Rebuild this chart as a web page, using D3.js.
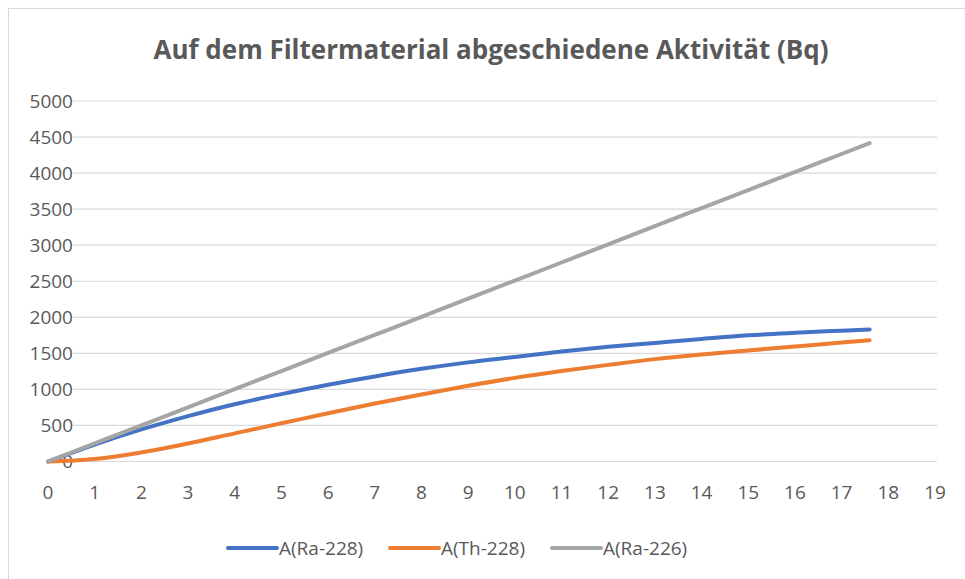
<!DOCTYPE html>
<html lang="de">
<head>
    <meta charset="UTF-8">
    <script src="https://cdnjs.cloudflare.com/ajax/libs/d3/7.8.5/d3.min.js"></script>
    <title>Aktivität</title>
    <style>
        body { margin: 0; background: white; }
        text { font-family: 'Open Sans', 'Noto Sans', sans-serif; fill: #595959; }
    </style>
</head>
<body>
    <div id="chart"></div>

    <script>
        // Data (years vs. Bq)
        const years = [0, 1, 2, 3, 4, 5, 6, 7, 8, 9, 10, 11, 12, 13, 14, 15, 16, 17, 17.6];
        const ra228 = [0, 235, 445, 630, 795, 935, 1065, 1180, 1285, 1375, 1450, 1525, 1590, 1645, 1700, 1750, 1785, 1815, 1832];
        const th228 = [0, 35, 125, 250, 390, 530, 670, 805, 930, 1050, 1160, 1255, 1340, 1420, 1485, 1540, 1595, 1650, 1682];
        const ra226 = [0, 250, 500, 750, 1005, 1255, 1505, 1755, 2005, 2260, 2510, 2760, 3010, 3265, 3515, 3765, 4015, 4265, 4415];

        const seriesNames = ["A(Ra-228)", "A(Th-228)", "A(Ra-226)"];
        const seriesColors = ["#4472C4", "#ED7D31", "#A5A5A5"];
        const xTicks = d3.range(0, 20);
        const yTicks = d3.range(0, 5001, 500);

        const width = 965, height = 579;

        const svg = d3.select("#chart").append("svg")
            .attr("width", width)
            .attr("height", height);

        // chart frame
        svg.append("rect")
            .attr("x", 8.5).attr("y", 8.5)
            .attr("width", 1000).attr("height", 1000)
            .attr("fill", "white")
            .attr("stroke", "#d9d9d9");

        const x = d3.scaleLinear().domain([0, 19]).range([48, 935]);
        const y = d3.scaleLinear().domain([0, 5000]).range([461.5, 101]);

        // gridlines
        svg.append("g")
            .selectAll("line")
            .data(yTicks)
            .enter().append("line")
            .attr("x1", 73).attr("x2", 937)
            .attr("y1", d => y(d)).attr("y2", d => y(d))
            .attr("stroke", "#d9d9d9")
            .attr("stroke-width", 1.2);

        // y labels
        svg.append("g")
            .selectAll("text")
            .data(yTicks)
            .enter().append("text")
            .attr("x", 73)
            .attr("y", d => y(d))
            .attr("dy", "0.35em")
            .attr("text-anchor", "end")
            .style("font-size", "19px")
            .text(d => d);

        // x labels
        svg.append("g")
            .selectAll("text")
            .data(xTicks)
            .enter().append("text")
            .attr("x", d => x(d))
            .attr("y", 492)
            .attr("dy", "0.35em")
            .attr("text-anchor", "middle")
            .style("font-size", "19px")
            .text(d => d);

        // lines
        const line = d3.line()
            .x(d => x(d[0]))
            .y(d => y(d[1]))
            .curve(d3.curveMonotoneX);

        const allSeries = [ra228, th228, ra226];
        allSeries.forEach((vals, i) => {
            svg.append("path")
                .datum(years.map((t, j) => [t, vals[j]]))
                .attr("d", line)
                .attr("fill", "none")
                .attr("stroke", seriesColors[i])
                .attr("stroke-width", 4)
                .attr("stroke-linecap", "round");
        });

        // title
        svg.append("text")
            .attr("x", 491)
            .attr("y", 50)
            .attr("dy", "0.35em")
            .attr("text-anchor", "middle")
            .style("font-size", "26px")
            .style("font-weight", "bold")
            .text("Auf dem Filtermaterial abgeschiedene Aktivität (Bq)");

        // legend
        const legendX = [228, 390, 552];
        const legend = svg.append("g");
        seriesNames.forEach((name, i) => {
            legend.append("line")
                .attr("x1", legendX[i]).attr("x2", legendX[i] + 49)
                .attr("y1", 548).attr("y2", 548)
                .attr("stroke", seriesColors[i])
                .attr("stroke-width", 4)
                .attr("stroke-linecap", "round");
            legend.append("text")
                .attr("x", legendX[i] + 51)
                .attr("y", 548)
                .attr("dy", "0.35em")
                .style("font-size", "19px")
                .text(name);
        });
    </script>
</body>
</html>
